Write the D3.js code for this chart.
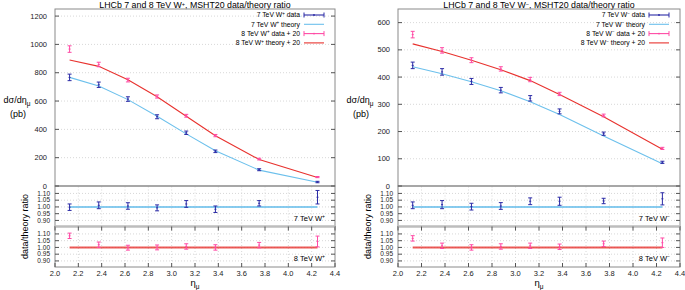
<!DOCTYPE html>
<html>
<head>
<meta charset="utf-8">
<script src="https://cdn.jsdelivr.net/npm/d3@7"></script>
<style>
  body { margin: 0; background: #fff; }
  svg { font-family: "Liberation Sans", Arial, sans-serif; }
  .frame { fill: none; stroke: #8a8a8a; stroke-width: 1; }
  .grid line { stroke: #d8d8d8; stroke-dasharray: 1,2; }
  .tick-lbl { font-size: 7.5px; fill: #222; }
  .rtick-lbl { font-size: 6.5px; fill: #222; }
</style>
</head>
<body>
<div id="chart"></div>
<script>
// muon pseudorapidity bin centres
const eta = [2.125, 2.375, 2.625, 2.875, 3.125, 3.375, 3.75, 4.25];
const xTicks = [2.0, 2.2, 2.4, 2.6, 2.8, 3.0, 3.2, 3.4, 3.6, 3.8, 4.0, 4.2, 4.4];
const ratioTicks = [0.90, 0.95, 1.00, 1.05, 1.10];

// W+ (left)
const wp7Data = [767, 715, 614, 489, 376, 245, 115, 28];
const wp7Err = [23, 19, 16, 14, 12, 9, 7, 5];
const wp7Theory = [767, 706, 610, 492, 368, 249, 112, 26];
const wp8Data = [967, 858, 748, 632, 496, 356, 190, 63];
const wp8Err = [23, 16, 13, 11, 10, 8, 6, 4];
const wp8Theory = [890, 845, 750, 630, 493, 355, 187, 60];
const wp7Ratio = [0.998, 1.012, 1.007, 0.993, 1.022, 0.983, 1.027, 1.072];
const wp7RatioErr = [0.024, 0.025, 0.024, 0.022, 0.025, 0.024, 0.02, 0.05];
const wp8Ratio = [1.086, 1.02, 0.998, 1.0, 1.007, 1.0, 1.017, 1.044];
const wp8RatioErr = [0.02, 0.02, 0.018, 0.018, 0.02, 0.02, 0.02, 0.04];
const wpTicks = [0, 200, 400, 600, 800, 1000, 1200];

// W- (right)
const wm7Data = [443, 419, 384, 352, 322, 274, 192, 87];
const wm7Err = [12, 12, 11, 10, 10, 9, 6, 4];
const wm7Theory = [438, 412, 383, 350, 309, 263, 184, 82];
const wm8Data = [556, 498, 462, 430, 391, 338, 259, 138];
const wm8Err = [12, 10, 9, 8, 8, 6, 5, 4];
const wm8Theory = [522, 494, 462, 427, 387, 336, 254, 135];
const wm7Ratio = [1.012, 1.017, 1.002, 1.007, 1.042, 1.042, 1.044, 1.06];
const wm7RatioErr = [0.025, 0.03, 0.025, 0.025, 0.025, 0.03, 0.02, 0.045];
const wm8Ratio = [1.067, 1.012, 1.0, 1.007, 1.012, 1.005, 1.027, 1.035];
const wm8RatioErr = [0.02, 0.02, 0.02, 0.02, 0.02, 0.02, 0.02, 0.035];
const wmTicks = [0, 100, 200, 300, 400, 500, 600];

const col = {
  d7: "#2b2ba6",
  t7: "#6cc0ec",
  d8: "#ff4aa5",
  t8: "#e8322e"
};

const W = 685, H = 290;
const svg = d3.select("#chart").append("svg")
  .attr("width", W).attr("height", H);

// vertical layout shared by both plots
const topY = [186, 9];
const r1Y = [226.5, 186];
const r2Y = [267, 226.5];
const ratioDomain = [0.855, 1.155];

function drawPanel(cfg) {
  const g = svg.append("g");
  const x = d3.scaleLinear().domain([2.0, 4.4]).range(cfg.xr);
  const y = d3.scaleLinear().domain([0, cfg.yMax]).range(topY);
  const yr1 = d3.scaleLinear().domain(ratioDomain).range(r1Y);
  const yr2 = d3.scaleLinear().domain(ratioDomain).range(r2Y);
  const x0 = cfg.xr[0], x1 = cfg.xr[1];

  // title
  g.append("text")
    .attr("x", (x0 + x1) / 2).attr("y", 8)
    .attr("text-anchor", "middle")
    .style("font-size", "8.8px")
    .call(t => {
      t.append("tspan").text("LHCb 7 and 8 TeV W");
      t.append("tspan").attr("dy", -2.5).style("font-size", "5.5px").text(cfg.sign);
      t.append("tspan").attr("dy", 2.5).text(", MSHT20 data/theory ratio");
    });

  // grid for main panel
  g.append("g").attr("class", "grid")
    .selectAll("line").data(cfg.yTicks.slice(1)).join("line")
    .attr("x1", x0).attr("x2", x1)
    .attr("y1", d => y(d)).attr("y2", d => y(d));

  // grid for ratio panels
  [yr1, yr2].forEach(s => {
    const gg = g.append("g").attr("class", "grid");
    gg.selectAll("line.h").data(ratioTicks).join("line").attr("class", "h")
      .attr("x1", x0).attr("x2", x1)
      .attr("y1", d => s(d)).attr("y2", d => s(d));
    gg.selectAll("line.v").data(xTicks.slice(1, -1)).join("line").attr("class", "v")
      .attr("x1", d => x(d)).attr("x2", d => x(d))
      .attr("y1", s.range()[0]).attr("y2", s.range()[1]);
  });

  // frames
  g.append("rect").attr("class", "frame")
    .attr("x", x0).attr("y", topY[1]).attr("width", x1 - x0).attr("height", topY[0] - topY[1]);
  g.append("rect").attr("class", "frame")
    .attr("x", x0).attr("y", r1Y[1]).attr("width", x1 - x0).attr("height", r1Y[0] - r1Y[1]);
  g.append("rect").attr("class", "frame")
    .attr("x", x0).attr("y", r2Y[1]).attr("width", x1 - x0).attr("height", r2Y[0] - r2Y[1]);
  g.append("line")
    .attr("x1", x0).attr("x2", x1).attr("y1", r1Y[0]).attr("y2", r1Y[0])
    .attr("stroke", "#bdbdbd").attr("stroke-width", 2.5);

  // y ticks main panel
  const yt = g.append("g");
  cfg.yTicks.forEach(v => {
    yt.append("line").attr("x1", x0).attr("x2", x0 + 4).attr("y1", y(v)).attr("y2", y(v)).attr("stroke", "#555");
    yt.append("line").attr("x1", x1).attr("x2", x1 - 4).attr("y1", y(v)).attr("y2", y(v)).attr("stroke", "#555");
    yt.append("text").attr("class", "tick-lbl")
      .attr("x", x0 - 8).attr("y", y(v) + 2.6).attr("text-anchor", "end").text(v);
  });
  // y ticks ratio panels
  [yr1, yr2].forEach(s => {
    ratioTicks.forEach(v => {
      yt.append("line").attr("x1", x0).attr("x2", x0 + 4).attr("y1", s(v)).attr("y2", s(v)).attr("stroke", "#555");
      yt.append("line").attr("x1", x1).attr("x2", x1 - 4).attr("y1", s(v)).attr("y2", s(v)).attr("stroke", "#555");
      yt.append("text").attr("class", "rtick-lbl")
        .attr("x", x0 - 5).attr("y", s(v) + 2.3).attr("text-anchor", "end").text(v.toFixed(2));
    });
  });
  // x ticks on bottom panel
  xTicks.forEach(v => {
    yt.append("line").attr("x1", x(v)).attr("x2", x(v)).attr("y1", r2Y[0]).attr("y2", r2Y[0] - 4).attr("stroke", "#555");
    yt.append("line").attr("x1", x(v)).attr("x2", x(v)).attr("y1", r2Y[1]).attr("y2", r2Y[1] + 4).attr("stroke", "#555");
    yt.append("text").attr("class", "tick-lbl")
      .attr("x", x(v)).attr("y", r2Y[0] + 9).attr("text-anchor", "middle").text(v.toFixed(1));
  });

  // axis titles
  g.append("text").attr("x", x0 - 38).attr("y", 103).attr("text-anchor", "middle")
    .style("font-size", "9px")
    .call(t => {
      t.append("tspan").text("dσ/dη");
      t.append("tspan").attr("dy", 2.5).style("font-size", "6.5px").text("μ");
    });
  g.append("text").attr("x", x0 - 37).attr("y", 117).attr("text-anchor", "middle")
    .style("font-size", "9px").text("(pb)");
  g.append("text")
    .attr("transform", "translate(" + (x0 - 27) + "," + r1Y[0] + ") rotate(-90)")
    .attr("text-anchor", "middle").style("font-size", "9px").text("data/theory ratio");
  g.append("text").attr("x", (x0 + x1) / 2).attr("y", 286).attr("text-anchor", "middle")
    .style("font-size", "9.5px")
    .call(t => {
      t.append("tspan").text("η");
      t.append("tspan").attr("dy", 2.5).style("font-size", "6.5px").text("μ");
    });

  // theory lines
  const line = d3.line().x(d => x(d[0])).y(d => y(d[1]));
  g.append("path").datum(d3.zip(eta, cfg.t7)).attr("d", line)
    .attr("fill", "none").attr("stroke", col.t7).attr("stroke-width", 1.1);
  g.append("path").datum(d3.zip(eta, cfg.t8)).attr("d", line)
    .attr("fill", "none").attr("stroke", col.t8).attr("stroke-width", 1.1);

  // ratio reference lines
  [[yr1, col.t7], [yr2, col.t8]].forEach(([s, c]) => {
    g.append("line")
      .attr("x1", x(eta[0])).attr("x2", x(eta[eta.length - 1]))
      .attr("y1", s(1)).attr("y2", s(1))
      .attr("stroke", c).attr("stroke-width", 2).attr("opacity", 0.8);
  });

  // error bars
  function errBars(sc, vals, errs, color) {
    const eg = g.append("g").attr("stroke", color).attr("stroke-width", 1);
    eta.forEach((e, i) => {
      const cx = x(e), yl = sc(vals[i] - errs[i]), yh = sc(vals[i] + errs[i]);
      eg.append("line").attr("x1", cx).attr("x2", cx).attr("y1", yl).attr("y2", yh);
      eg.append("line").attr("x1", cx - 2).attr("x2", cx + 2).attr("y1", yl).attr("y2", yl);
      eg.append("line").attr("x1", cx - 2).attr("x2", cx + 2).attr("y1", yh).attr("y2", yh);
      eg.append("line").attr("x1", cx - 1).attr("x2", cx + 1).attr("y1", sc(vals[i])).attr("y2", sc(vals[i]));
    });
  }
  errBars(y, cfg.d7, cfg.e7, col.d7);
  errBars(y, cfg.d8, cfg.e8, col.d8);
  errBars(yr1, cfg.r7, cfg.re7, col.d7);
  errBars(yr2, cfg.r8, cfg.re8, col.d8);

  // panel labels
  [[yr1, "7"], [yr2, "8"]].forEach(([s, e]) => {
    g.append("text").attr("x", x1 - 10).attr("y", s.range()[0] - 6)
      .attr("text-anchor", "end").style("font-size", "7.5px")
      .call(t => {
        t.append("tspan").text(e + " TeV W");
        t.append("tspan").attr("dy", -3).style("font-size", "5px").text(cfg.sign);
      });
  });

  // legend
  const entries = [
    { lbl: "7 TeV W", tail: " data", c: col.d7, bar: true },
    { lbl: "7 TeV W", tail: " theory", c: col.t7, bar: false },
    { lbl: "8 TeV W", tail: " data + 20", c: col.d8, bar: true },
    { lbl: "8 TeV W", tail: " theory + 20", c: col.t8, bar: false }
  ];
  const lg = g.append("g");
  entries.forEach((en, i) => {
    const ly = 15 + i * 9.3;
    lg.append("text").attr("x", x1 - 35).attr("y", ly + 2.3)
      .attr("text-anchor", "end").style("font-size", "6.8px")
      .call(t => {
        t.append("tspan").text(en.lbl);
        t.append("tspan").attr("dy", -2.5).style("font-size", "4.5px").text(cfg.sign);
        t.append("tspan").attr("dy", 2.5).text(en.tail);
      });
    const sx0 = x1 - 31, sx1 = x1 - 11;
    lg.append("line").attr("x1", sx0).attr("x2", sx1).attr("y1", ly).attr("y2", ly)
      .attr("stroke", en.c).attr("stroke-width", 1.1);
    if (en.bar) {
      [sx0, sx1].forEach(sx => lg.append("line")
        .attr("x1", sx).attr("x2", sx).attr("y1", ly - 2.5).attr("y2", ly + 2.5)
        .attr("stroke", en.c));
      lg.append("circle").attr("cx", (sx0 + sx1) / 2).attr("cy", ly).attr("r", 0.9).attr("fill", en.c);
    }
  });
}

drawPanel({
  xr: [55, 335], yMax: 1250, yTicks: wpTicks, sign: "+",
  d7: wp7Data, e7: wp7Err, t7: wp7Theory,
  d8: wp8Data, e8: wp8Err, t8: wp8Theory,
  r7: wp7Ratio, re7: wp7RatioErr, r8: wp8Ratio, re8: wp8RatioErr
});
drawPanel({
  xr: [398, 680], yMax: 650, yTicks: wmTicks, sign: "−",
  d7: wm7Data, e7: wm7Err, t7: wm7Theory,
  d8: wm8Data, e8: wm8Err, t8: wm8Theory,
  r7: wm7Ratio, re7: wm7RatioErr, r8: wm8Ratio, re8: wm8RatioErr
});
</script>
</body>
</html>
